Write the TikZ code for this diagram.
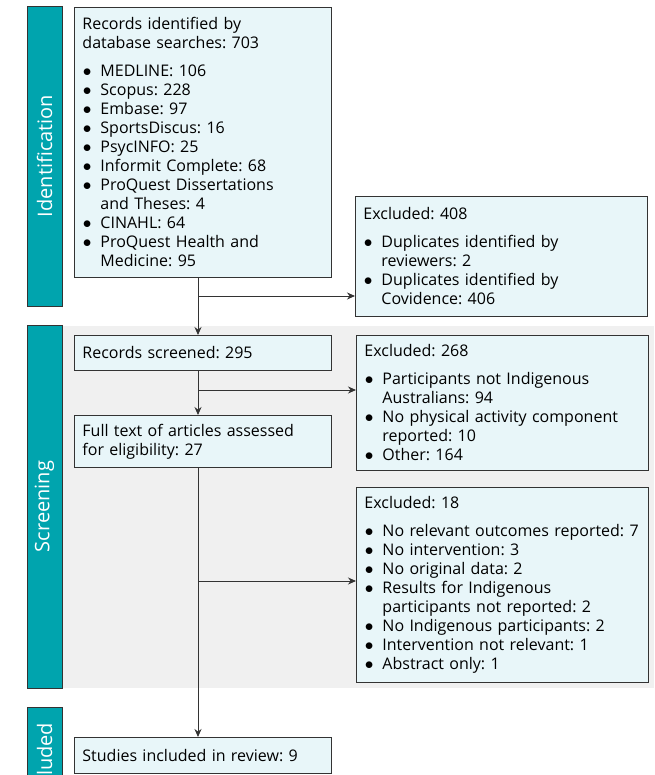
\documentclass[tikz,border=0pt]{standalone}
\usepackage{fontspec}
\setmainfont{Open Sans}
\usetikzlibrary{positioning,arrows.meta,calc}
\definecolor{stageteal}{HTML}{00A4AE}
\definecolor{boxfill}{HTML}{E8F6F9}
\definecolor{bandgrey}{HTML}{F0F0F0}
\definecolor{edgegrey}{HTML}{333333}

\frenchspacing
\newcommand{\brk}{\hfil\break}
\newcommand{\bul}[1]{\hangindent=18pt\hangafter=1\noindent\makebox[18pt][l]{\hspace{0.5pt}$\bullet$}#1\par}
\newcommand{\head}[1]{\noindent #1\par\vspace{9pt}}

\tikzset{
  box/.style={draw=edgegrey, line width=0.9pt, fill=boxfill, anchor=north west,
    text width=241pt, align=left, inner xsep=8pt, inner ysep=5pt,
    font=\fontsize{16}{19}\selectfont},
  exbox/.style={box, text width=276pt},
  stage/.style={draw=edgegrey, line width=0.9pt, fill=stageteal, text=white,
    font=\fontsize{20}{20}\selectfont, minimum height=35pt, inner sep=0pt, rotate=90},
  arr/.style={draw=edgegrey, line width=0.9pt, -{Stealth[length=8pt,width=7pt]}}
}

\begin{document}
\begin{tikzpicture}[x=1pt,y=-1pt]
\path[use as bounding box, clip] (0,0) rectangle (654,775);

% screening band
\fill[bandgrey] (62,326) rectangle (654,688);

\node[stage, minimum width=300pt] (idbar) at (44.5,156) {Identification};
\node[stage, minimum width=363pt] (scbar) at (44.5,506.5) {Screening};
\node[stage, minimum width=112pt] (inbar) at (44.5,763) {Included};

\node[box, minimum height=270pt] (recs) at (74,7) {%
  \head{Records identified by\brk database searches: 703}%
  \bul{MEDLINE: 106}
  \bul{Scopus: 228}
  \bul{Embase: 97}
  \bul{SportsDiscus: 16}
  \bul{PsycINFO: 25}
  \bul{Informit Complete: 68}
  \bul{ProQuest Dissertations\brk and Theses: 4}
  \bul{CINAHL: 64}
  \bul{ProQuest Health and\brk Medicine: 95}};

\node[exbox, minimum height=120pt] (ex1) at (355,196) {%
  \head{Excluded: 408}%
  \bul{Duplicates identified by\brk reviewers: 2}
  \bul{Duplicates identified by\brk Covidence: 406}};

\node[box, minimum height=35pt] (scr) at (74,335) {Records screened: 295};

\node[exbox, minimum height=135pt] (ex2) at (356,335) {%
  \head{Excluded: 268}%
  \bul{Participants not Indigenous\brk Australians: 94}
  \bul{No physical activity component\brk reported: 10}
  \bul{Other: 164}};

\node[box, minimum height=52pt] (full) at (74,415) {Full text of articles assessed\brk for eligibility: 27};

\node[exbox, minimum height=195pt] (ex3) at (356,487) {%
  \head{Excluded: 18}%
  \bul{No relevant outcomes reported: 7}
  \bul{No intervention: 3}
  \bul{No original data: 2}
  \bul{Results for Indigenous\brk participants not reported: 2}
  \bul{No Indigenous participants: 2}
  \bul{Intervention not relevant: 1}
  \bul{Abstract only: 1}};

\node[box, minimum height=36pt] (incl) at (74,737) {Studies included in review: 9};

% junctions on the main line
\coordinate (j1) at (198,296);
\coordinate (j2) at (198,390);
\coordinate (j3) at (198,581);

\draw[arr] (recs.south -| j1) -- (scr.north -| j1);
\draw[arr] (j1) -- (j1 -| ex1.west);
\draw[arr] (scr.south -| j2) -- (full.north -| j2);
\draw[arr] (j2) -- (j2 -| ex2.west);
\draw[arr] (full.south -| j3) -- (incl.north -| j3);
\draw[arr] (j3) -- (j3 -| ex3.west);
\end{tikzpicture}
\end{document}
